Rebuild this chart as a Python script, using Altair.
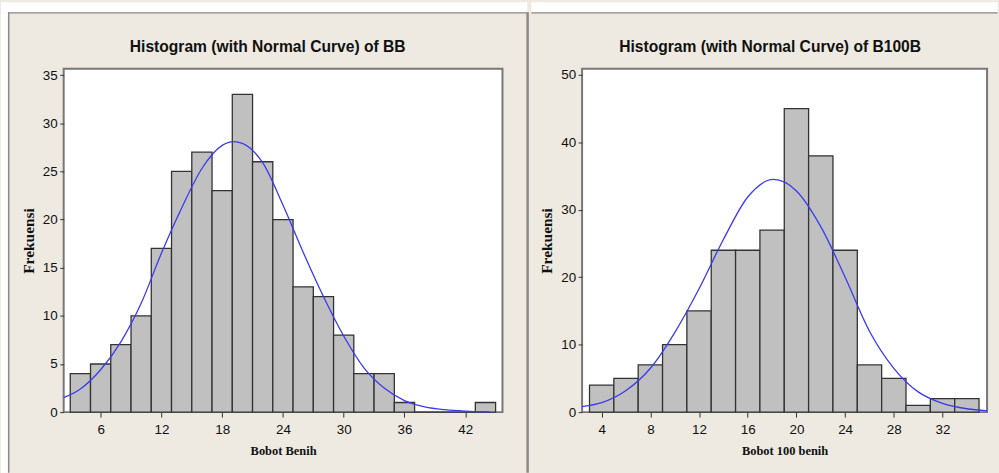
import altair as alt
import pandas as pd

# ---------------- Left panel: BB ----------------
bb_bin_start = [3, 5, 7, 9, 11, 13, 15, 17, 19, 21, 23, 25, 27, 29, 31, 33, 35, 37, 39, 41, 43]
bb_bin_end = [5, 7, 9, 11, 13, 15, 17, 19, 21, 23, 25, 27, 29, 31, 33, 35, 37, 39, 41, 43, 45]
bb_counts = [4, 5, 7, 10, 17, 25, 27, 23, 33, 26, 20, 13, 12, 8, 4, 4, 1, 0, 0, 0, 1]
bb_curve_x = [2.35, 4, 6, 8, 10, 12, 14, 16, 18, 19.1, 20, 22, 24, 26, 28, 30, 32, 34, 36, 38, 40, 42, 44.4]
bb_curve_y = [1.5, 2.4, 4.4, 7.3, 11.3, 16.5, 21.2, 25.3, 27.7, 28.1, 27.9, 25.9, 21.5, 16.6, 12.0, 7.9, 4.6, 2.5, 1.2, 0.55, 0.25, 0.1, 0.03]
bb_x_ticks = [6, 12, 18, 24, 30, 36, 42]
bb_y_ticks = [0, 5, 10, 15, 20, 25, 30, 35]

# ---------------- Right panel: B100B ----------------
b100b_bin_start = [3, 5, 7, 9, 11, 13, 15, 17, 19, 21, 23, 25, 27, 29, 31, 33]
b100b_bin_end = [5, 7, 9, 11, 13, 15, 17, 19, 21, 23, 25, 27, 29, 31, 33, 35]
b100b_counts = [4, 5, 7, 10, 15, 24, 24, 27, 45, 38, 24, 7, 5, 1, 2, 2]
b100b_curve_x = [2.39, 4, 6, 8, 10, 12, 14, 16, 18.1, 20, 22, 24, 26, 28, 30, 32, 34, 35.66]
b100b_curve_y = [0.8, 1.4, 3.2, 6.5, 11.8, 18.3, 25.6, 31.9, 34.5, 32.8, 27.5, 20.0, 12.0, 6.5, 3.0, 1.3, 0.5, 0.2]
b100b_x_ticks = [4, 8, 12, 16, 20, 24, 28, 32]
b100b_y_ticks = [0, 10, 20, 30, 40, 50]

BG = "#EEEAE1"
BAR_FILL = "#C0C0C0"
BAR_STROKE = "#333333"
CURVE = "#3a3af0"
LINE_GRAY = "#8a8a8a"
SANS = "Liberation Sans, Arial, sans-serif"
SERIF = "Liberation Serif, Times New Roman, serif"

one_row = pd.DataFrame({"k": [0]})


def deco(x1, x2, y1, y2, color):
    return alt.Chart(one_row).mark_rect(fill=color, strokeWidth=0).encode(
        x=alt.value(x1), x2=alt.value(x2), y=alt.value(y1), y2=alt.value(y2)
    )


def panel(title, title_x, starts, ends, counts, cx, cy, xdom, ydom, xticks, yticks,
          xtitle, w, h, decorations):
    bars_df = pd.DataFrame({"start": starts, "end": ends, "count": counts})
    curve_df = pd.DataFrame({"x": cx, "y": cy})
    xs = alt.Scale(domain=xdom, nice=False, zero=False)
    ys = alt.Scale(domain=ydom, nice=False, zero=False)
    bars = alt.Chart(bars_df).mark_rect(
        fill=BAR_FILL, stroke=BAR_STROKE, strokeWidth=1.3
    ).encode(
        x=alt.X("start:Q", scale=xs, axis=alt.Axis(values=xticks, title=xtitle)),
        x2="end:Q",
        y=alt.Y("count:Q", scale=ys, axis=alt.Axis(values=yticks, title="Frekuensi")),
        y2=alt.datum(0),
    )
    curve = alt.Chart(curve_df).mark_line(
        color=CURVE, strokeWidth=1.3, interpolate="monotone"
    ).encode(x=alt.X("x:Q", scale=xs), y=alt.Y("y:Q", scale=ys))
    heading = alt.Chart(one_row).mark_text(
        text=title, font=SANS, fontSize=15.7, fontWeight="bold", color="#111",
        align="center", baseline="alphabetic",
    ).encode(x=alt.value(title_x), y=alt.value(-17))
    return alt.layer(*decorations, bars, curve, heading).properties(width=w, height=h)


left_deco = [
    deco(-63, 466, -67, -57, "white"),
    deco(-63, -56, -57, 406, "white"),
    deco(-56, 466, -57, -55.5, LINE_GRAY),
    deco(-56, -54.5, -57, 406, LINE_GRAY),
    deco(465, 467.5, -57, 406, LINE_GRAY),
]
right_deco = [
    deco(-51, 417.5, -67, -57, "white"),
    deco(-51, 417.5, -57, -55.5, LINE_GRAY),
]

left = panel("Histogram (with Normal Curve) of BB", 205,
             bb_bin_start, bb_bin_end, bb_counts, bb_curve_x, bb_curve_y,
             [2.35, 45.68], [0, 35.65], bb_x_ticks, bb_y_ticks,
             "Bobot Benih", 441, 345, left_deco)
right = panel("Histogram (with Normal Curve) of B100B", 189,
              b100b_bin_start, b100b_bin_end, b100b_counts, b100b_curve_x, b100b_curve_y,
              [2.39, 35.66], [0, 50.9], b100b_x_ticks, b100b_y_ticks,
              "Bobot 100 benih", 407, 345, right_deco)

chart = alt.hconcat(left, right, spacing=0).properties(
    padding=0, background=BG
).configure_view(
    stroke="#777777", strokeWidth=2, fill="white"
).configure_axis(
    labelFont=SANS, labelFontSize=13.5, labelColor="#111",
    tickColor="#333", tickWidth=1, domain=False, grid=False,
    titleFont=SERIF, titleFontWeight="bold", titleColor="#111",
).configure_axisX(
    tickSize=5, labelPadding=5, titleFontSize=12.5, titlePadding=9,
).configure_axisY(
    tickSize=4, labelPadding=2.5, titleFontSize=15.5, titlePadding=6,
)

chart.save("out.html", embed_options={"renderer": "svg", "actions": False})
